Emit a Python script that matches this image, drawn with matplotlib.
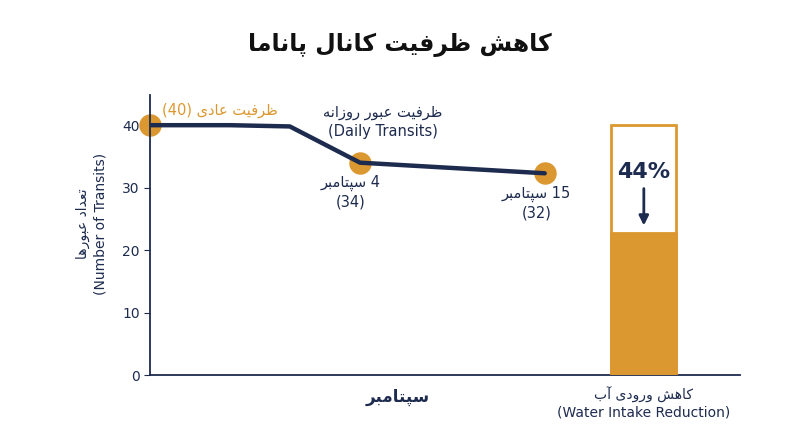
import matplotlib.pyplot as plt
from matplotlib.patches import Rectangle

# Minimal Persian shaping (presentation forms) + visual reversal
FORMS = {
    "ا": ("\uFE8D", "\uFE8E", None, None), "آ": ("\uFE81", "\uFE82", None, None),
    "ب": ("\uFE8F", "\uFE90", "\uFE91", "\uFE92"), "پ": ("\uFB56", "\uFB57", "\uFB58", "\uFB59"),
    "ت": ("\uFE95", "\uFE96", "\uFE97", "\uFE98"), "د": ("\uFEA9", "\uFEAA", None, None),
    "ر": ("\uFEAD", "\uFEAE", None, None), "ز": ("\uFEAF", "\uFEB0", None, None),
    "س": ("\uFEB1", "\uFEB2", "\uFEB3", "\uFEB4"), "ش": ("\uFEB5", "\uFEB6", "\uFEB7", "\uFEB8"),
    "ظ": ("\uFEC5", "\uFEC6", "\uFEC7", "\uFEC8"), "ع": ("\uFEC9", "\uFECA", "\uFECB", "\uFECC"),
    "ف": ("\uFED1", "\uFED2", "\uFED3", "\uFED4"), "ک": ("\uFB8E", "\uFB8F", "\uFB90", "\uFB91"),
    "ل": ("\uFEDD", "\uFEDE", "\uFEDF", "\uFEE0"), "م": ("\uFEE1", "\uFEE2", "\uFEE3", "\uFEE4"),
    "ن": ("\uFEE5", "\uFEE6", "\uFEE7", "\uFEE8"), "ه": ("\uFEE9", "\uFEEA", "\uFEEB", "\uFEEC"),
    "و": ("\uFEED", "\uFEEE", None, None), "ی": ("\uFBFC", "\uFBFD", "\uFBFE", "\uFBFF"),
}


def fa(text):
    words = []
    for w in text.split(" "):
        out = []
        for i, ch in enumerate(w):
            if ch not in FORMS:
                out.append(ch)
                continue
            prev = w[i - 1] if i > 0 else None
            nxt = w[i + 1] if i + 1 < len(w) else None
            join_prev = prev in FORMS and FORMS[prev][2] is not None
            join_next = nxt in FORMS and FORMS[ch][2] is not None
            iso, fin, ini, med = FORMS[ch]
            if join_prev and join_next:
                out.append(med)
            elif join_prev:
                out.append(fin)
            elif join_next:
                out.append(ini)
            else:
                out.append(iso)
        words.append("".join(out[::-1]))
    return " ".join(words[::-1])


plt.rcParams["font.family"] = ["DejaVu Sans"]

NAVY = "#1d2b4f"
ORANGE = "#dc9830"

# data
line_x = [0, 1.36, 2.37, 3.56, 6.69]
line_y = [40, 40, 39.8, 34, 32.3]
marker_x = [0, 3.56, 6.69]
marker_y = [40, 34, 32.3]
bar_x = 8.37
bar_full = 40
bar_remaining = 22.8
reduction_pct = 44
yticks = [0, 10, 20, 30, 40]

fig = plt.figure(figsize=(8, 4.47), dpi=100)
ax = fig.add_axes([0.1875, 0.161, 0.7375, 0.626])
ax.set_xlim(0, 10)
ax.set_ylim(0, 44.8)

ax.plot(line_x, line_y, color=NAVY, lw=3.2, zorder=3, solid_capstyle="round")
ax.scatter(marker_x, marker_y, s=230, color=ORANGE, zorder=2, clip_on=False)

ax.add_patch(Rectangle((bar_x - 0.55, 0), 1.1, bar_full, facecolor="white",
                       edgecolor=ORANGE, lw=2, zorder=2))
ax.add_patch(Rectangle((bar_x - 0.55, 0), 1.1, bar_remaining, facecolor=ORANGE,
                       edgecolor=ORANGE, lw=2, zorder=3))
ax.text(bar_x, 32.5, f"{reduction_pct}%", ha="center", va="center", fontsize=16,
        fontweight="bold", color=NAVY)
ax.annotate("", xy=(bar_x, 23.5), xytext=(bar_x, 30.3),
            arrowprops=dict(arrowstyle="-|>", color=NAVY, lw=2, mutation_scale=14))

ax.text(0.2, 42.3, "(40) " + fa("ظرفیت عادی"), color=ORANGE, fontsize=10.5, va="center")
ax.text(3.95, 40.5, fa("ظرفیت عبور روزانه") + "\n(Daily Transits)", ha="center",
        va="center", fontsize=10.5, color=NAVY, linespacing=1.3)
ax.text(3.4, 29.3, fa("سپتامبر") + " 4\n(34)", ha="center", va="center",
        fontsize=10.5, color=NAVY, linespacing=1.3)
ax.text(6.55, 27.5, fa("سپتامبر") + " 15\n(32)", ha="center", va="center",
        fontsize=10.5, color=NAVY, linespacing=1.3)

ax.set_yticks(yticks)
ax.set_xticks([])
ax.tick_params(axis="y", colors=NAVY, labelsize=10, length=4)
for s in ["top", "right"]:
    ax.spines[s].set_visible(False)
for s in ["left", "bottom"]:
    ax.spines[s].set_color(NAVY)
    ax.spines[s].set_linewidth(1.3)

fig.text(0.18 - 0.065, 0.5, fa("تعداد عبورها") + "\n(Number of Transits)", rotation=90,
         ha="center", va="center", fontsize=10, color=NAVY, linespacing=1.3)
ax.text(4.2, -3.5, fa("سپتامبر"), ha="center", va="center", fontsize=12,
        fontweight="bold", color=NAVY)
ax.text(bar_x, -4.5, fa("کاهش ورودی آب") + "\n(Water Intake Reduction)", ha="center",
        va="center", fontsize=10, color=NAVY, linespacing=1.3)

fig.text(0.5, 0.9, fa("کاهش ظرفیت کانال پاناما"), ha="center", va="center",
         fontsize=17, fontweight="bold", color="#111111")

fig.savefig("out.png", dpi=100, facecolor="white")
